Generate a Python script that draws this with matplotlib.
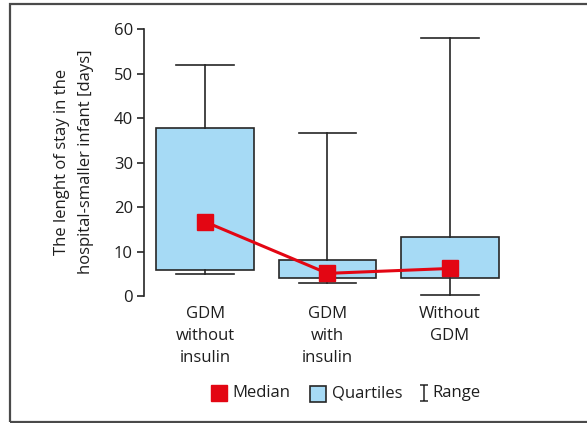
import matplotlib.pyplot as plt
from matplotlib.patches import Rectangle
from matplotlib.lines import Line2D
from matplotlib.path import Path

plt.rcParams['font.family'] = ['Open Sans', 'DejaVu Sans']

groups = ["GDM\nwithout\ninsulin", "GDM\nwith\ninsulin", "Without\nGDM"]
medians = [16.7, 5.1, 6.2]
q1 = [5.9, 4.0, 4.0]
q3 = [37.8, 8.0, 13.3]
mins = [4.9, 2.9, 0.3]
maxs = [52.0, 36.8, 58.0]
legend_labels = ['Median', 'Quartiles', 'Range']

red = '#e30613'
blue = '#a6daf5'
dark = '#262626'
txt = '#1e1e1e'
W, H = 587, 423

fig = plt.figure(figsize=(W / 100, H / 100), dpi=100)
ax = fig.add_axes([0.2453, 0.3002, 0.6252, 0.6301])

stats = []
for i in range(len(groups)):
    stats.append(dict(med=medians[i], q1=q1[i], q3=q3[i],
                      whislo=mins[i], whishi=maxs[i], fliers=[]))

pos = [1, 2, 3]
ax.bxp(stats, positions=pos, widths=0.8, capwidths=0.47, patch_artist=True,
       showfliers=False,
       boxprops=dict(facecolor=blue, edgecolor=dark, linewidth=1.2),
       whiskerprops=dict(color=dark, linewidth=1.2),
       capprops=dict(color=dark, linewidth=1.2),
       medianprops=dict(linewidth=0))

ax.plot(pos, medians, color=red, linewidth=2.2, marker='s', markersize=12.2,
        zorder=5)

ax.set_xlim(0.5, 3.5)
ax.set_ylim(0, 60)
ax.set_yticks(range(0, 61, 10))
ax.set_xticks(pos)
ax.set_xticklabels(groups, fontsize=12, linespacing=1.52, color=txt)
ax.tick_params(axis='x', length=0, pad=7)
ax.tick_params(axis='y', length=5, width=1.2, pad=3, labelsize=12,
               color=dark, labelcolor=txt)
for s in ['top', 'right', 'bottom']:
    ax.spines[s].set_visible(False)
ax.spines['left'].set_linewidth(1.2)
ax.spines['left'].set_color(dark)

fig.text(74 / W, 1 - 162 / H, "The lenght of stay in the\nhospital-smaller infant [days]",
         rotation=90, ha='center', va='center', fontsize=12, linespacing=1.6,
         color=txt)

# legend drawn by hand, pixel positions
ly = 1 - 393 / H
fig.add_artist(Line2D([218.5 / W], [ly], marker='s', linestyle='none', color=red,
                      markersize=12.2, transform=fig.transFigure))
fig.add_artist(Rectangle((309.5 / W, 1 - 401.5 / H), 16 / W, 16 / H,
                         transform=fig.transFigure, facecolor=blue,
                         edgecolor=dark, linewidth=1.2))
ibeam = Path([(-0.45, -1), (0.45, -1), (0, -1), (0, 1), (-0.45, 1), (0.45, 1)],
             [Path.MOVETO, Path.LINETO, Path.MOVETO, Path.LINETO,
              Path.MOVETO, Path.LINETO])
fig.add_artist(Line2D([424 / W], [ly], marker=ibeam, linestyle='none',
                      markerfacecolor='none', markeredgecolor=dark,
                      markersize=12, markeredgewidth=1.1,
                      transform=fig.transFigure))
for x, lab in zip([232, 332, 432], legend_labels):
    fig.text(x / W, ly, lab, ha='left', va='center', fontsize=12, color=txt)

fig.add_artist(Rectangle((9.5 / W, 1 / H), 1.2, 1 - 5 / H,
                         transform=fig.transFigure, fill=False,
                         edgecolor='#4a4a4a', linewidth=1.6))

fig.savefig('out.png', dpi=100)
